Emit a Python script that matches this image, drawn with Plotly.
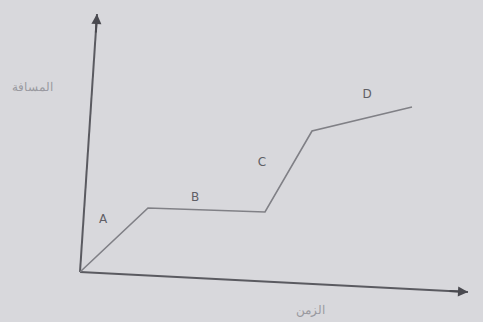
import plotly.graph_objects as go

# Values (picture coordinates of the drawn graph)
segment_labels = ["A", "B", "C", "D"]
time_pts = [80, 148, 265, 312, 412]
dist_pts = [272, 208, 212, 131, 107]
label_x = [103, 195, 262, 367]
label_y = [220, 198, 163, 95]
y_axis_x = [80, 97]
y_axis_y = [272, 14]
x_axis_x = [80, 468]
x_axis_y = [272, 292]
y_title = "المسافة"
x_title = "الزمن"

fig = go.Figure()
fig.add_trace(go.Scatter(x=y_axis_x, y=y_axis_y, mode="lines",
                         line=dict(color="#5a5a60", width=2), hoverinfo="skip"))
fig.add_trace(go.Scatter(x=x_axis_x, y=x_axis_y, mode="lines",
                         line=dict(color="#5a5a60", width=2), hoverinfo="skip"))
fig.add_trace(go.Scatter(x=time_pts, y=dist_pts, mode="lines",
                         line=dict(color="#808086", width=1.6), hoverinfo="skip"))
fig.add_trace(go.Scatter(x=label_x, y=label_y, mode="text", text=segment_labels,
                         textfont=dict(family="DejaVu Sans", size=12, color="#5f5f66"),
                         hoverinfo="skip"))

# arrowheads on axes
fig.add_annotation(x=y_axis_x[1], y=y_axis_y[1], ax=y_axis_x[1] - 1.2, ay=y_axis_y[1] + 20,
                   xref="x", yref="y", axref="x", ayref="y", showarrow=True,
                   arrowhead=2, arrowsize=1, arrowwidth=2, arrowcolor="#4a4a50", text="")
fig.add_annotation(x=x_axis_x[1], y=x_axis_y[1], ax=x_axis_x[1] - 20, ay=x_axis_y[1] - 1,
                   xref="x", yref="y", axref="x", ayref="y", showarrow=True,
                   arrowhead=2, arrowsize=1, arrowwidth=2, arrowcolor="#4a4a50", text="")

fig.add_annotation(x=32, y=86, xref="x", yref="y", text=y_title, showarrow=False,
                   font=dict(family="Noto Sans", size=12, color="#9a9aa0"))
fig.add_annotation(x=310, y=309, xref="x", yref="y", text=x_title, showarrow=False,
                   font=dict(family="Noto Sans", size=12, color="#9a9aa0"))

fig.update_layout(
    width=483, height=322,
    margin=dict(l=0, r=0, t=0, b=0),
    paper_bgcolor="#d8d8dc", plot_bgcolor="#d8d8dc",
    showlegend=False,
    xaxis=dict(range=[0, 483], visible=False, fixedrange=True),
    yaxis=dict(range=[322, 0], visible=False, fixedrange=True),
)
fig.write_html(
    "out.html",
    config={"displayModeBar": False},
    post_script="document.body.style.margin='0';document.body.style.overflow='hidden';"
                "document.body.style.background='#d8d8dc';",
)
